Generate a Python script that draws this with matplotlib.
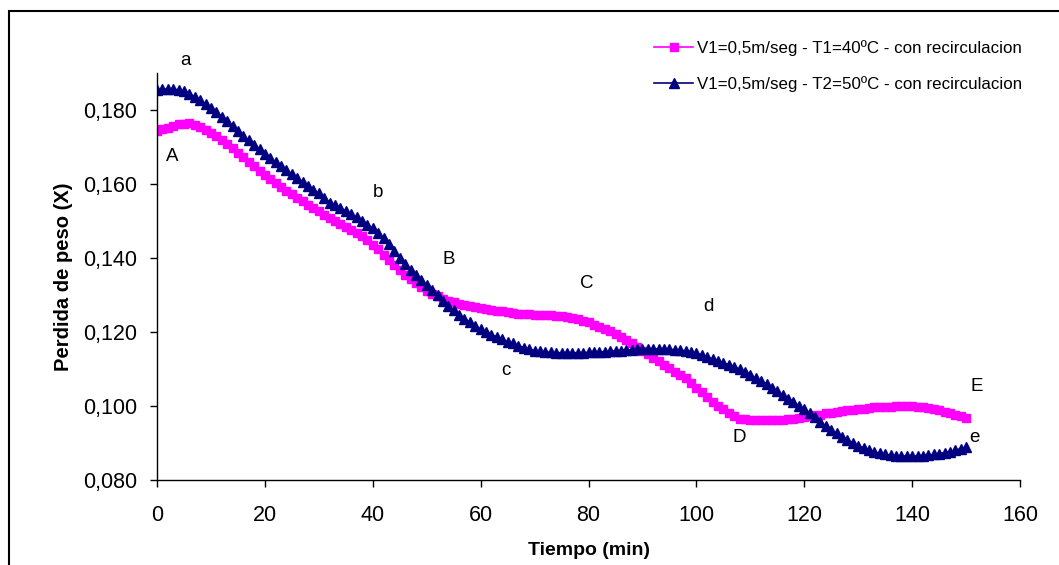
import numpy as np
import matplotlib
matplotlib.use("Agg")
import matplotlib.pyplot as plt
from matplotlib.ticker import FuncFormatter, MultipleLocator
from matplotlib.patches import Rectangle

plt.rcParams['font.family'] = ['Liberation Sans', 'DejaVu Sans']

# tiempo de secado (min), un punto por minuto
tiempo = np.arange(0, 151)

# V1=0,5 m/seg, T1=40 ºC
perdida_t1 = [
    0.1743, 0.1748, 0.1752, 0.1757, 0.1761, 0.1763, 0.1764, 0.1760, 0.1754, 0.1747,
    0.1739, 0.1731, 0.1720, 0.1708, 0.1697, 0.1685, 0.1672, 0.1660, 0.1648, 0.1636,
    0.1625, 0.1614, 0.1603, 0.1592, 0.1582, 0.1572, 0.1562, 0.1553, 0.1544, 0.1535,
    0.1526, 0.1517, 0.1508, 0.1499, 0.1491, 0.1483, 0.1475, 0.1467, 0.1459, 0.1448,
    0.1436, 0.1423, 0.1408, 0.1394, 0.1380, 0.1367, 0.1355, 0.1343, 0.1332, 0.1322,
    0.1312, 0.1303, 0.1296, 0.1290, 0.1285, 0.1281, 0.1277, 0.1273, 0.1270, 0.1267,
    0.1264, 0.1262, 0.1260, 0.1258, 0.1256, 0.1254, 0.1252, 0.1250, 0.1249, 0.1248,
    0.1247, 0.1246, 0.1246, 0.1245, 0.1244, 0.1243, 0.1241, 0.1238, 0.1235, 0.1231,
    0.1226, 0.1220, 0.1214, 0.1209, 0.1202, 0.1195, 0.1187, 0.1179, 0.1170, 0.1160,
    0.1150, 0.1140, 0.1130, 0.1121, 0.1111, 0.1102, 0.1093, 0.1085, 0.1076, 0.1063,
    0.1050, 0.1037, 0.1025, 0.1012, 0.1000, 0.0991, 0.0981, 0.0972, 0.0966, 0.0964,
    0.0963, 0.0962, 0.0962, 0.0962, 0.0962, 0.0962, 0.0963, 0.0965, 0.0966, 0.0968,
    0.0970, 0.0972, 0.0975, 0.0977, 0.0980, 0.0982, 0.0985, 0.0987, 0.0988, 0.0990,
    0.0991, 0.0993, 0.0995, 0.0996, 0.0997, 0.0998, 0.0998, 0.0999, 0.0999, 0.0999,
    0.0999, 0.0998, 0.0997, 0.0995, 0.0992, 0.0988, 0.0985, 0.0981, 0.0977, 0.0972,
    0.0968,
]

# V1=0,5 m/seg, T2=50 ºC
perdida_t2 = [
    0.1855, 0.1856, 0.1857, 0.1857, 0.1854, 0.1850, 0.1844, 0.1836, 0.1827, 0.1816,
    0.1805, 0.1794, 0.1782, 0.1769, 0.1756, 0.1743, 0.1730, 0.1718, 0.1706, 0.1694,
    0.1682, 0.1671, 0.1660, 0.1649, 0.1638, 0.1627, 0.1616, 0.1606, 0.1595, 0.1585,
    0.1575, 0.1563, 0.1550, 0.1542, 0.1535, 0.1527, 0.1519, 0.1510, 0.1500, 0.1490,
    0.1480, 0.1468, 0.1453, 0.1437, 0.1418, 0.1400, 0.1383, 0.1368, 0.1353, 0.1340,
    0.1327, 0.1313, 0.1299, 0.1285, 0.1271, 0.1259, 0.1247, 0.1236, 0.1226, 0.1216,
    0.1207, 0.1200, 0.1193, 0.1187, 0.1180, 0.1174, 0.1169, 0.1163, 0.1158, 0.1153,
    0.1150, 0.1148, 0.1146, 0.1145, 0.1144, 0.1144, 0.1144, 0.1144, 0.1144, 0.1144,
    0.1145, 0.1145, 0.1146, 0.1147, 0.1148, 0.1149, 0.1150, 0.1151, 0.1152, 0.1153,
    0.1153, 0.1154, 0.1154, 0.1154, 0.1153, 0.1153, 0.1152, 0.1151, 0.1149, 0.1146,
    0.1143, 0.1138, 0.1132, 0.1127, 0.1122, 0.1117, 0.1112, 0.1106, 0.1099, 0.1092,
    0.1084, 0.1076, 0.1068, 0.1059, 0.1050, 0.1040, 0.1030, 0.1020, 0.1011, 0.1001,
    0.0991, 0.0981, 0.0969, 0.0958, 0.0946, 0.0935, 0.0926, 0.0917, 0.0908, 0.0900,
    0.0893, 0.0886, 0.0880, 0.0876, 0.0872, 0.0869, 0.0867, 0.0866, 0.0865, 0.0865,
    0.0865, 0.0865, 0.0866, 0.0867, 0.0869, 0.0871, 0.0874, 0.0877, 0.0880, 0.0885,
    0.0889,
]

# letras que marcan los tramos de cada curva
etiquetas = ['a', 'A', 'b', 'B', 'C', 'c', 'd', 'D', 'E', 'e']
etiq_x = [5.2, 2.8, 41.0, 54.0, 79.6, 64.6, 102.3, 108.0, 152.0, 151.5]
etiq_y = [0.1935, 0.1673, 0.1578, 0.1397, 0.1330, 0.1097, 0.1268, 0.0914, 0.1054, 0.0914]

fig = plt.figure(figsize=(10.59, 5.65), dpi=100)
ax = fig.add_axes([0.1483, 0.1504, 0.8149, 0.7204])

ax.plot(tiempo, perdida_t1, color='#FF00FF', marker='s', markersize=5.6,
        linewidth=1.2, label='V1=0,5m/seg - T1=40ºC - con recirculacion')
ax.plot(tiempo, perdida_t2, color='#000080', marker='^', markersize=6.6,
        linewidth=1.2, label='V1=0,5m/seg - T2=50ºC - con recirculacion')

for txt, x, y in zip(etiquetas, etiq_x, etiq_y):
    ax.text(x, y, txt, fontsize=13.5, ha='center', va='center', clip_on=False)

ax.set_xlim(0, 160)
ax.set_ylim(0.08, 0.19)
ax.xaxis.set_major_locator(MultipleLocator(20))
ax.set_yticks(np.arange(0.08, 0.181, 0.02))
ax.yaxis.set_major_formatter(FuncFormatter(lambda v, p: f'{v:.3f}'.replace('.', ',')))

ax.spines['top'].set_visible(False)
ax.spines['right'].set_visible(False)
for s in ['left', 'bottom']:
    ax.spines[s].set_linewidth(1.0)
ax.tick_params(direction='out', length=4.8, width=1.0, labelsize=15.5)
ax.tick_params(axis='y', pad=9.5)
ax.tick_params(axis='x', pad=13.5)

ax.set_xlabel('Tiempo (min)', fontsize=14, fontweight='bold', labelpad=11)
ax.set_ylabel('Perdida de peso (X)', fontsize=14.5, fontweight='bold', labelpad=7)

ax.legend(loc='upper left', bbox_to_anchor=(0.5585, 1.118), frameon=False,
          fontsize=12.2, handlelength=2.3, labelspacing=1.15, handletextpad=0.25)

# marco del area del grafico
fig.patches.append(Rectangle((9 / 1059, -0.1), 1.2, 1 - 11 / 565 + 0.1,
                             transform=fig.transFigure, fill=False,
                             edgecolor='black', linewidth=1.5))

fig.savefig('out.png', dpi=100)
